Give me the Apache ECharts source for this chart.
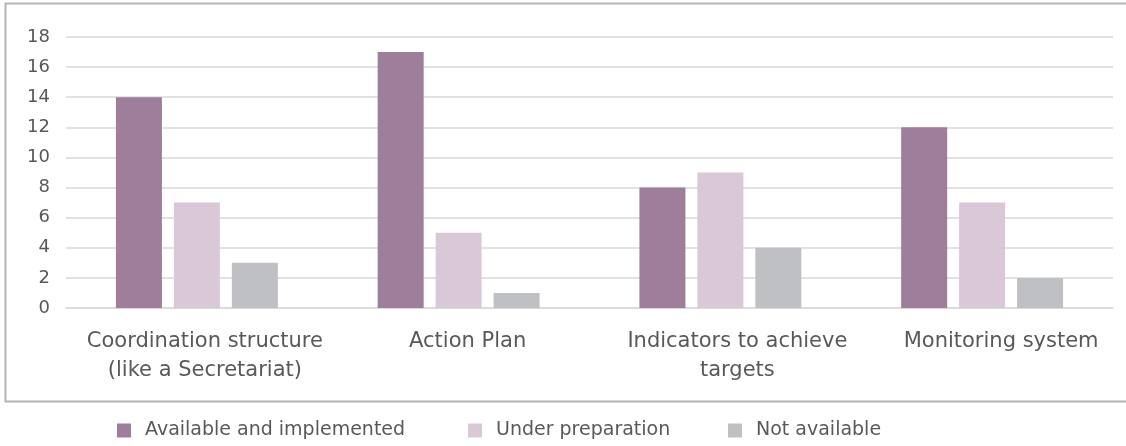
<!DOCTYPE html>
<html><head><meta charset="utf-8">
<script src="https://cdn.jsdelivr.net/npm/echarts@6/dist/echarts.min.js"></script>
<style>html,body{margin:0;padding:0;background:#fff}#c{width:1126px;height:446px}</style>
</head><body><div id="c"></div>
<script>
const categories = ['Coordination structure\n(like a Secretariat)', 'Action Plan', 'Indicators to achieve\ntargets', 'Monitoring system'];
const seriesNames = ['Available and implemented', 'Under preparation', 'Not available'];
const availableImplemented = [14, 17, 8, 12];
const underPreparation = [7, 5, 9, 7];
const notAvailable = [3, 1, 4, 2];
const yTicks = [0, 2, 4, 6, 8, 10, 12, 14, 16, 18];
const colors = ['#9e7e9a', '#d8c8d8', '#bfc0c4'];
const legendLefts = [117, 468, 728];
const labelShift = [16, 18, 34, 38];
const font = '"DejaVu Sans", sans-serif';
const chart = echarts.init(document.getElementById('c'));
const values = [availableImplemented, underPreparation, notAvailable];
const rich = {};
labelShift.forEach((s, i) => {
  rich['s' + i] = {fontFamily: font, fontSize: 21, color: '#595959', lineHeight: 29, padding: [0, 0, 0, s]};
});
chart.setOption({
  animation: false,
  graphic: [{type: 'rect', shape: {x: 5.5, y: 3.5, width: 1130, height: 398}, style: {fill: 'none', stroke: '#b3b3b3', lineWidth: 2}, silent: true}],
  grid: {left: 66, right: 13, top: 37, bottom: 138},
  legend: seriesNames.map((n, i) => ({
    top: 421, left: legendLefts[i], itemWidth: 14, itemHeight: 14, padding: 0,
    icon: 'rect',
    textStyle: {fontFamily: font, fontSize: 19, color: '#595959', padding: [0, 0, 0, 9]},
    data: [n]
  })),
  xAxis: {
    type: 'category', data: categories,
    axisLine: {lineStyle: {color: '#d9d9d9', width: 1.5}},
    axisTick: {show: false},
    axisLabel: {
      fontFamily: font, fontSize: 21, color: '#595959', margin: 19, lineHeight: 29, interval: 0,
      formatter: (v, idx) => v.split('\n').map(l => '{s' + idx + '|' + l + '}').join('\n'),
      rich: rich
    }
  },
  yAxis: {
    type: 'value', min: yTicks[0], max: yTicks[yTicks.length - 1], interval: 2,
    axisLine: {show: false}, axisTick: {show: false},
    splitLine: {lineStyle: {color: '#d9d9d9', width: 1.5}},
    axisLabel: {fontFamily: font, fontSize: 18, color: '#595959', margin: 16}
  },
  series: seriesNames.map((n, i) => ({
    name: n, type: 'bar', data: values[i], barWidth: 46, barGap: '26%',
    itemStyle: {color: colors[i]}
  }))
});
</script></body></html>
